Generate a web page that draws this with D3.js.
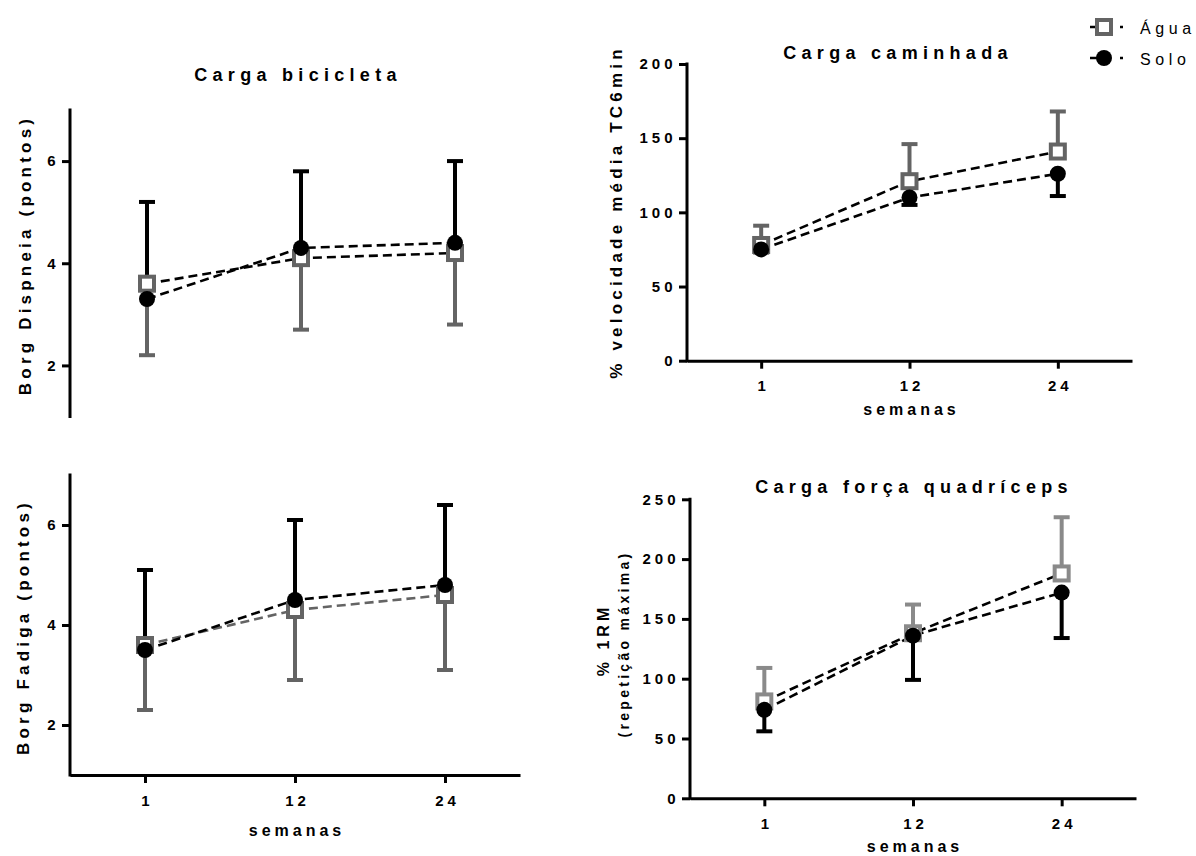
<!DOCTYPE html>
<html>
<head>
<meta charset="utf-8">
<script src="https://cdn.jsdelivr.net/npm/d3@7"></script>
<style>
  body { margin: 0; background: #fff; }
  svg { display: block; font-family: "Liberation Sans", Arial, sans-serif; }
</style>
</head>
<body>
<svg id="chart" width="1196" height="856"></svg>
<script>
// semanas
var weeks = ["1", "12", "24"];

// Carga bicicleta (Borg Dispneia)
var biciAgua = [3.6, 4.1, 4.2];
var biciAguaSD = [1.4, 1.4, 1.4];
var biciSolo = [3.3, 4.3, 4.4];
var biciSoloSD = [1.9, 1.5, 1.6];

// Borg Fadiga
var fadigaAgua = [3.6, 4.3, 4.6];
var fadigaAguaSD = [1.3, 1.4, 1.5];
var fadigaSolo = [3.5, 4.5, 4.8];
var fadigaSoloSD = [1.6, 1.6, 1.6];

// Carga caminhada (% velocidade media TC6min)
var camAgua = [78, 121, 141];
var camAguaSD = [13, 25, 27];
var camSolo = [75, 110, 126];
var camSoloSD = [2, 5, 15];

// Carga forca quadriceps (% 1RM)
var forcaAgua = [81, 138, 188];
var forcaAguaSD = [28, 24, 47];
var forcaSolo = [74, 136, 172];
var forcaSoloSD = [18, 37, 38];

var svg = d3.select("#chart");
var FONT = "Liberation Sans, Arial, sans-serif";

function label(g, txt, x, y, size, weight, ls, anchor, rot) {
  var t = g.append("text")
    .attr("x", x).attr("y", y)
    .attr("font-size", size)
    .attr("font-weight", weight)
    .attr("letter-spacing", ls)
    .attr("text-anchor", anchor || "middle")
    .attr("fill", "#000")
    .text(txt);
  if (rot) t.attr("transform", "rotate(-90," + x + "," + y + ")");
  return t;
}

function panel(cfg) {
  var g = svg.append("g");
  var x = d3.scalePoint().domain(weeks).range(cfg.xr).padding(0.5);
  var y = d3.scaleLinear().domain(cfg.yd).range(cfg.yr);

  // y axis
  var ya = g.append("g").attr("transform", "translate(" + cfg.xr[0] + ",0)")
    .call(d3.axisLeft(y).tickValues(cfg.yt).tickFormat(d3.format("d"))
      .tickSize(8).tickPadding(6).tickSizeOuter(0));
  ya.select(".domain").attr("stroke-width", 3).attr("d", "M0," + (cfg.yr[0] + 1.5) + "V" + (cfg.yr[1] - 1.5));
  ya.selectAll(".tick line").attr("stroke-width", 3);
  ya.selectAll(".tick text").attr("font-size", 15).attr("font-weight", "bold")
    .attr("letter-spacing", 4).attr("dx", 3.5).attr("font-family", FONT);

  if (cfg.xaxis) {
    var xa = g.append("g").attr("transform", "translate(0," + cfg.yr[0] + ")")
      .call(d3.axisBottom(x).tickSize(8).tickPadding(12).tickSizeOuter(0));
    xa.select(".domain").attr("stroke-width", 3);
    xa.selectAll(".tick line").attr("stroke-width", 3);
    xa.selectAll(".tick text").attr("font-size", 15).attr("font-weight", "bold")
      .attr("letter-spacing", 4).attr("dx", 2).attr("font-family", FONT);
    label(g, "semanas", (cfg.xr[0] + cfg.xr[1]) / 2 + 2, cfg.yr[0] + cfg.semY, 16, "bold", 4);
  }

  // error bars
  function errBars(vals, sd, dir, color) {
    var eg = g.append("g").attr("stroke", color).attr("stroke-width", 4);
    vals.forEach(function (v, i) {
      var cx = x(weeks[i]);
      var end = y(v + dir * sd[i]);
      eg.append("line").attr("x1", cx).attr("x2", cx).attr("y1", y(v)).attr("y2", end);
      eg.append("line").attr("x1", cx - 8).attr("x2", cx + 8).attr("y1", end).attr("y2", end);
    });
  }
  errBars(cfg.agua, cfg.aguaSD, cfg.aguaDir, cfg.gray);
  errBars(cfg.solo, cfg.soloSD, -cfg.aguaDir, "#000");

  var line = d3.line().x(function (d, i) { return x(weeks[i]); }).y(function (d) { return y(d); });
  g.append("path").datum(cfg.agua).attr("d", line).attr("fill", "none")
    .attr("stroke", cfg.aguaLine || "#000").attr("stroke-width", 2.6).attr("stroke-dasharray", "9,5");
  g.append("path").datum(cfg.solo).attr("d", line).attr("fill", "none")
    .attr("stroke", "#000").attr("stroke-width", 2.6).attr("stroke-dasharray", "9,5");

  g.selectAll(".sq").data(cfg.agua).enter().append("rect")
    .attr("x", function (d, i) { return x(weeks[i]) - 7; })
    .attr("y", function (d) { return y(d) - 7; })
    .attr("width", 14).attr("height", 14)
    .attr("fill", "#fff").attr("stroke", cfg.gray).attr("stroke-width", 4);
  g.selectAll(".ci").data(cfg.solo).enter().append("circle")
    .attr("cx", function (d, i) { return x(weeks[i]); })
    .attr("cy", function (d) { return y(d); })
    .attr("r", 8).attr("fill", "#000");

  if (cfg.title) label(g, cfg.title, cfg.titleX, cfg.titleY, 18, "bold", 5.3);
  cfg.ylab.forEach(function (l) {
    label(g, l.t, l.x, l.y, l.s || 17, "bold", l.ls || 4.2, "middle", true);
  });
}

panel({
  xr: [70, 532], yd: [1, 7], yr: [416.5, 110], yt: [2, 4, 6], xaxis: false,
  agua: biciAgua, aguaSD: biciAguaSD, solo: biciSolo, soloSD: biciSoloSD, aguaDir: -1,
  gray: "#646464", title: "Carga bicicleta", titleX: 298, titleY: 81,
  ylab: [{ t: "Borg Dispneia (pontos)", x: 31, y: 255 }]
});

panel({
  xr: [70, 520], yd: [1, 7], yr: [775, 475], yt: [2, 4, 6], xaxis: true, semY: 61,
  agua: fadigaAgua, aguaSD: fadigaAguaSD, solo: fadigaSolo, soloSD: fadigaSoloSD, aguaDir: -1,
  gray: "#646464", aguaLine: "#646464",
  ylab: [{ t: "Borg Fadiga (pontos)", x: 29, y: 627 }]
});

panel({
  xr: [687, 1132], yd: [0, 200], yr: [360.7, 64], yt: [0, 50, 100, 150, 200], xaxis: true, semY: 54,
  agua: camAgua, aguaSD: camAguaSD, solo: camSolo, soloSD: camSoloSD, aguaDir: 1,
  gray: "#646464", title: "Carga caminhada", titleX: 898, titleY: 59,
  ylab: [{ t: "% velocidade média TC6min", x: 622, y: 212 }]
});

panel({
  xr: [690, 1136], yd: [0, 250], yr: [798.3, 499.3], yt: [0, 50, 100, 150, 200, 250], xaxis: true, semY: 54,
  agua: forcaAgua, aguaSD: forcaAguaSD, solo: forcaSolo, soloSD: forcaSoloSD, aguaDir: 1,
  gray: "#8a8a8a", title: "Carga força quadríceps", titleX: 914, titleY: 493,
  ylab: [{ t: "% 1RM", x: 609, y: 640, s: 16, ls: 4 }, { t: "(repetição máxima)", x: 629, y: 644, s: 14, ls: 3.3 }]
});

// legend
var legend = [
  { name: "Água", y: 27, kind: "sq" },
  { name: "Solo", y: 58, kind: "ci" }
];
var lg = svg.append("g");
legend.forEach(function (d) {
  lg.append("line").attr("x1", 1090).attr("x2", 1124).attr("y1", d.y).attr("y2", d.y)
    .attr("stroke", "#000").attr("stroke-width", 2.6).attr("stroke-dasharray", "8,22,3,50");
  if (d.kind === "sq") {
    lg.append("rect").attr("x", 1097).attr("y", d.y - 7).attr("width", 14).attr("height", 14)
      .attr("fill", "#fff").attr("stroke", "#646464").attr("stroke-width", 4);
  } else {
    lg.append("circle").attr("cx", 1104).attr("cy", d.y).attr("r", 8).attr("fill", "#000");
  }
  label(lg, d.name, 1140, d.y + 7, 16, "normal", 4.6, "start");
});
</script>
</body>
</html>
